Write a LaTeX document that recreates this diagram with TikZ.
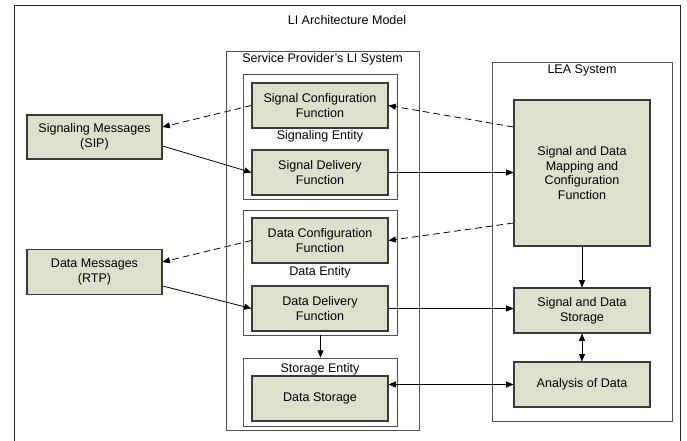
\documentclass[tikz,border=0pt]{standalone}
\usepackage{fontspec}
\setmainfont{Liberation Sans}
\usetikzlibrary{arrows.meta,calc,fit}
\definecolor{boxfill}{HTML}{DDE1CC}
\definecolor{boxline}{HTML}{3A3A3A}
\definecolor{frameline}{HTML}{505050}
\tikzset{
  every node/.style={font=\fontsize{9.4}{11}\selectfont, text=black},
  fbox/.style={draw=boxline, line width=0.8pt, fill=boxfill, align=center,
    minimum width=102pt, minimum height=33.75pt, inner sep=1pt},
  frame/.style={draw=frameline, line width=0.6pt, inner sep=0pt},
  lbl/.style={inner sep=0pt, anchor=center},
  tip/.style={-{Triangle[length=5.5pt,width=4.5pt]}},
  dtip/.style={{Triangle[length=5.5pt,width=4.5pt]}-{Triangle[length=5.5pt,width=4.5pt]}},
  conn/.style={line width=0.6pt, draw=black},
  dconn/.style={line width=0.6pt, draw=black, dash pattern=on 5pt off 3pt},
}
\begin{document}
\begin{tikzpicture}[x=0.75pt,y=-0.75pt]
\useasboundingbox (0,0) rectangle (687,441);
% outer frame (bottom edge outside the picture)
\draw[line width=0.7pt, draw=black!85] (14,445) -- (14,5.5) -- (680,5.5) -- (680,445);
\node[lbl] (title) at (347,20) {LI Architecture Model};

% frames
\coordinate (spA) at (226,51);   \coordinate (spB) at (419,430);
\node[frame, fit=(spA)(spB)] (sp) {};
\node[lbl] (sptitle) at (322.5,59.5) {Service Provider's LI System};

\coordinate (seA) at (243.5,74); \coordinate (seB) at (397.5,199);
\node[frame, fit=(seA)(seB)] (sigent) {};
\coordinate (deA) at (243.5,210); \coordinate (deB) at (397.5,335);
\node[frame, fit=(deA)(deB)] (datent) {};
\coordinate (stA) at (243.5,358); \coordinate (stB) at (397.5,426);
\node[frame, fit=(stA)(stB)] (stoent) {};

\coordinate (leA) at (492,62); \coordinate (leB) at (672,421);
\node[frame, fit=(leA)(leB)] (lea) {};
\node[lbl] (leatitle) at (582,70.5) {LEA System};

% function boxes
\node[fbox, minimum width=101.25pt, minimum height=33pt] (sip) at (94.5,137) {Signaling Messages\\(SIP)};
\node[fbox, minimum width=101.25pt, minimum height=34pt] (rtp) at (94.5,272) {Data Messages\\(RTP)};

\node[fbox] (sigcfg) at (320,105.5) {Signal Configuration\\Function};
\node[lbl] (sigentlbl) at (320,136.5) {Signaling Entity};
\node[fbox] (sigdel) at (320,172.5) {Signal Delivery\\Function};

\node[fbox] (datcfg) at (320,240.5) {Data Configuration\\Function};
\node[lbl] (datentlbl) at (320,272.5) {Data Entity};
\node[fbox] (datdel) at (320,308.5) {Data Delivery\\Function};

\node[lbl] (stoentlbl) at (320,369.5) {Storage Entity};
\node[fbox] (dstore) at (320,398.5) {Data Storage};

\node[fbox, minimum height=109.5pt] (map) at (582,173) {Signal and Data\\Mapping and\\Configuration\\Function};
\node[fbox] (sds) at (582,310.5) {Signal and Data\\Storage};
\node[fbox] (ana) at (582,384.5) {Analysis of Data};

% connectors
\draw[dconn, tip] (sigcfg.west) -- ([yshift=7.5pt]sip.east);
\draw[conn, tip] ([yshift=-6.75pt]sip.east) -- (sigdel.west);
\draw[dconn, tip] ([yshift=34.5pt]map.west) -- (sigcfg.east);
\draw[conn, tip] (sigdel.east) -- (sigdel.east -| map.west);
\draw[dconn, tip] ([yshift=-37.5pt]map.west) -- (datcfg.east);
\draw[dconn, tip] (datcfg.west) -- ([yshift=7.5pt]rtp.east);
\draw[conn, tip] ([yshift=-10.5pt]rtp.east) -- (datdel.west);
\draw[conn, tip] (datdel.east) -- (datdel.east -| sds.west);
\draw[conn, tip] (datent.south) -- (stoent.north);
\draw[conn, tip] (map.south) -- (sds.north);
\draw[conn, dtip] (sds.south) -- (ana.north);
\draw[conn, dtip] (dstore.east |- ana.west) -- (ana.west);
\end{tikzpicture}
\end{document}
